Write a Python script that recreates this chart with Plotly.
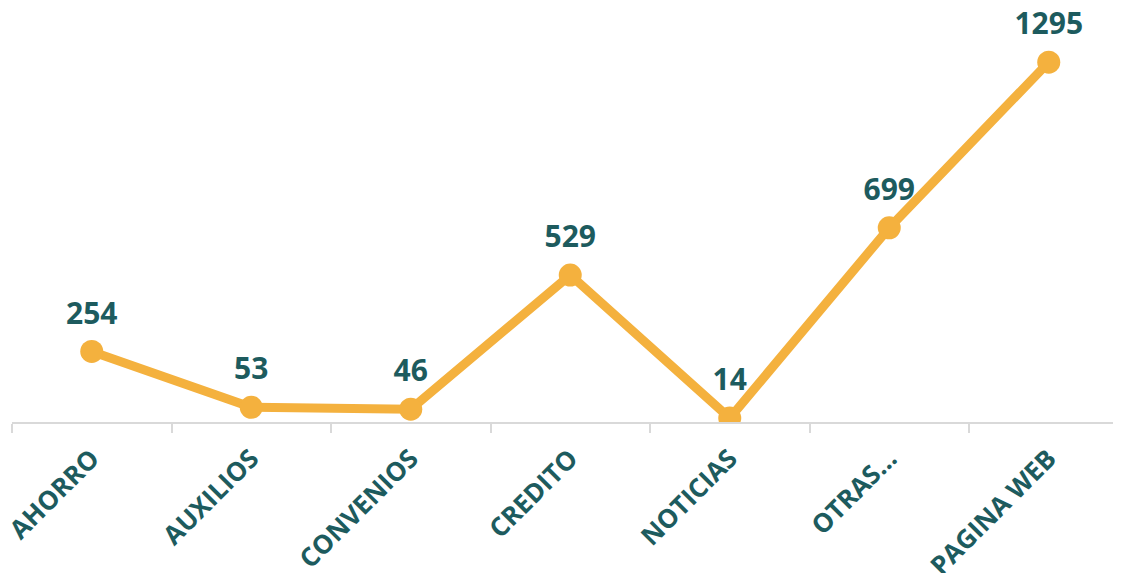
import plotly.graph_objects as go

categorias = ["AHORRO", "AUXILIOS", "CONVENIOS", "CREDITO", "NOTICIAS", "OTRAS...", "PAGINA WEB"]
valores = [254, 53, 46, 529, 14, 699, 1295]

TEXT_COLOR = "#1D5B5E"
LINE_COLOR = "#F4B13E"

fig = go.Figure()
fig.add_trace(go.Scatter(
    x=categorias, y=valores,
    mode="lines+markers",
    line=dict(color=LINE_COLOR, width=9),
    marker=dict(color=LINE_COLOR, size=23),
    hoverinfo="skip",
))
# labels: invisible bigger markers to push text a bit higher
fig.add_trace(go.Scatter(
    x=categorias, y=valores,
    mode="markers+text",
    marker=dict(size=31, opacity=0),
    text=[str(v) for v in valores],
    textposition="top center",
    textfont=dict(family="Open Sans", size=30, color=TEXT_COLOR, weight="bold"),
    cliponaxis=False,
    hoverinfo="skip",
))

fig.update_layout(
    width=1113, height=565,
    margin=dict(l=4, r=0, t=0, b=151),
    paper_bgcolor="white",
    plot_bgcolor="white",
    showlegend=False,
    font=dict(family="Open Sans", color=TEXT_COLOR),
)
fig.update_xaxes(
    range=[-0.5, 6.453],
    automargin=False,
    tickson="boundaries",
    ticks="outside", ticklen=9, tickwidth=2, tickcolor="#D9D9D9",
    ticklabelstandoff=9,
    showline=True, linecolor="#D9D9D9", linewidth=2,
    showgrid=False, tickangle=-45,
    tickfont=dict(family="Open Sans", size=26, color=TEXT_COLOR, weight="bold"),
)
fig.update_yaxes(range=[0, 1490], visible=False, showgrid=False, zeroline=False)

fig.write_html("out.html")
